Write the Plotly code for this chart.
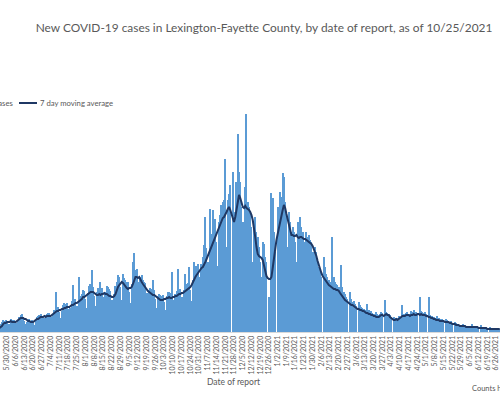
import pandas as pd
import plotly.graph_objects as go

# ---------------- data ----------------
START_DATE = "2020-05-22"          # first day of the series (a Friday)
TICK_START = "2020-05-30"          # first weekly tick label (Saturdays)
TICK_END = "2021-06-26"

# Daily new cases, one row per week (Fri .. Thu)
NEW_CASES_WEEKS = [
    [8, 4, 6, 16, 20, 24, 22],
    [24, 18, 10, 16, 26, 22, 24],
    [24, 18, 12, 22, 30, 34, 36],
    [30, 22, 16, 20, 24, 26, 22],
    [24, 18, 14, 22, 30, 32, 34],
    [36, 28, 20, 28, 34, 36, 38],
    [38, 30, 22, 34, 44, 80, 46],
    [50, 40, 28, 42, 54, 58, 56],
    [58, 46, 32, 48, 62, 94, 66],
    [66, 52, 38, 110, 72, 76, 84],
    [82, 66, 48, 78, 92, 96, 124],
    [90, 72, 52, 80, 88, 86, 100],
    [88, 70, 50, 80, 92, 90, 86],
    [82, 64, 46, 76, 92, 100, 114],
    [110, 90, 64, 116, 108, 104, 100],
    [100, 80, 58, 96, 140, 158, 124],
    [126, 100, 72, 110, 114, 104, 100],
    [98, 78, 56, 84, 88, 86, 104],
    [84, 66, 48, 72, 76, 74, 72],
    [74, 60, 44, 72, 80, 80, 78],
    [120, 64, 48, 76, 82, 126, 86],
    [86, 70, 52, 84, 116, 96, 98],
    [130, 84, 62, 104, 140, 126, 132],
    [136, 110, 80, 136, 150, 174, 230],
    [168, 140, 104, 246, 196, 244, 210],
    [226, 180, 132, 220, 234, 254, 260],
    [264, 346, 170, 264, 276, 294, 0],
    [320, 240, 170, 300, 396, 320, 300],
    [250, 220, 180, 290, 436, 260, 250],
    [240, 210, 140, 220, 230, 200, 190],
    [170, 140, 110, 180, 176, 150, 140],
    [0, 70, 60, 278, 268, 200, 160],
    [0, 250, 220, 280, 270, 318, 310],
    [260, 230, 170, 240, 220, 200, 210],
    [200, 180, 140, 220, 200, 230, 210],
    [200, 180, 150, 200, 190, 194, 184],
    [180, 160, 120, 170, 160, 140, 130],
    [124, 110, 0, 150, 130, 116, 110],
    [104, 100, 0, 190, 110, 100, 96],
    [94, 90, 0, 134, 90, 80, 76],
    [70, 66, 0, 80, 66, 60, 62],
    [56, 52, 0, 60, 54, 50, 48],
    [46, 44, 0, 56, 44, 40, 42],
    [38, 36, 0, 40, 36, 34, 36],
    [40, 38, 0, 64, 40, 38, 36],
    [34, 30, 0, 30, 26, 28, 28],
    [32, 30, 0, 54, 36, 36, 38],
    [40, 36, 0, 42, 40, 44, 38],
    [40, 38, 0, 70, 42, 40, 38],
    [40, 36, 0, 70, 34, 32, 32],
    [30, 28, 0, 32, 28, 26, 26],
    [26, 24, 0, 26, 24, 22, 20],
    [22, 18, 0, 20, 18, 16, 16],
    [14, 14, 0, 16, 14, 12, 12],
    [12, 10, 0, 16, 12, 10, 10],
    [12, 10, 0, 14, 10, 8, 8],
    [10, 8, 0, 10, 8, 6, 6],
    [8, 6, 0, 8, 6],
]

# 7 day moving average, same rows
MOVING_AVG_WEEKS = [
    [6, 6, 8, 10, 12, 16, 18],
    [18, 20, 20, 20, 22, 20, 20],
    [20, 20, 22, 24, 26, 28, 28],
    [28, 26, 26, 24, 22, 22, 20],
    [20, 20, 22, 24, 26, 26, 28],
    [30, 30, 30, 32, 30, 32, 32],
    [32, 32, 34, 36, 38, 40, 42],
    [42, 44, 44, 46, 46, 48, 48],
    [50, 50, 50, 52, 54, 54, 56],
    [58, 58, 60, 62, 64, 66, 70],
    [70, 72, 74, 76, 78, 80, 80],
    [80, 78, 76, 74, 74, 76, 74],
    [76, 76, 78, 76, 76, 74, 72],
    [72, 70, 70, 72, 76, 84, 90],
    [94, 98, 100, 98, 94, 90, 88],
    [86, 88, 88, 90, 96, 104, 110],
    [110, 108, 110, 104, 100, 96, 92],
    [88, 86, 82, 80, 78, 76, 74],
    [74, 72, 70, 68, 66, 64, 64],
    [64, 66, 66, 68, 68, 70, 68],
    [68, 70, 70, 72, 72, 74, 76],
    [76, 78, 78, 80, 82, 84, 86],
    [88, 90, 94, 100, 106, 110, 114],
    [118, 120, 124, 128, 130, 134, 140],
    [146, 152, 160, 166, 170, 176, 184],
    [192, 198, 204, 208, 214, 220, 228],
    [230, 234, 240, 246, 250, 244, 236],
    [224, 220, 230, 244, 260, 274, 268],
    [256, 250, 248, 252, 248, 246, 244],
    [240, 234, 224, 210, 190, 170, 156],
    [152, 150, 148, 144, 132, 120, 112],
    [108, 106, 106, 110, 128, 150, 168],
    [184, 196, 210, 220, 232, 244, 254],
    [248, 236, 224, 212, 202, 194, 194],
    [192, 192, 194, 190, 188, 190, 190],
    [188, 186, 186, 184, 182, 180, 178],
    [176, 172, 166, 160, 152, 142, 132],
    [122, 118, 112, 108, 104, 100, 96],
    [94, 92, 90, 88, 86, 86, 84],
    [84, 82, 78, 74, 70, 66, 64],
    [62, 60, 58, 56, 54, 54, 52],
    [50, 48, 46, 46, 44, 44, 42],
    [42, 40, 38, 38, 36, 36, 34],
    [34, 32, 32, 30, 30, 30, 32],
    [34, 34, 32, 34, 36, 34, 34],
    [30, 28, 26, 24, 24, 26, 24],
    [26, 28, 30, 32, 32, 32, 34],
    [34, 34, 32, 34, 34, 36, 34],
    [34, 36, 36, 34, 36, 34, 34],
    [34, 32, 32, 30, 30, 28, 28],
    [26, 26, 24, 24, 24, 22, 22],
    [22, 22, 20, 20, 20, 20, 18],
    [18, 16, 16, 16, 14, 14, 14],
    [12, 12, 12, 12, 12, 10, 10],
    [10, 10, 10, 10, 10, 10, 10],
    [10, 8, 8, 8, 8, 8, 8],
    [8, 6, 6, 6, 6, 6, 6],
    [6, 6, 6, 6, 6],
]

TITLE = "New COVID-19 cases in Lexington-Fayette County, by date of report, as of 10/25/2021"
BAR_NAME = "New cases"
LINE_NAME = "7 day moving average"
X_TITLE = "Date of report"
FOOTNOTE = "Counts have"

new_cases = [v for wk in NEW_CASES_WEEKS for v in wk]
moving_avg = [v for wk in MOVING_AVG_WEEKS for v in wk]
dates = pd.date_range(START_DATE, periods=len(new_cases), freq="D")
tick_vals = pd.date_range(TICK_START, TICK_END, freq="7D")

# ---------------- layout constants ----------------
W, H = 500, 397
PLOT_TOP, PLOT_BOTTOM = 100, 332
Y_MAX = 464
BAR_COLOR = "#5B9BD5"
LINE_COLOR = "#1F3864"
TEXT_COLOR = "#595959"
FONT = "Lato, 'Open Sans', sans-serif"


def px_x(px):
    return px / W


def px_y(py):
    return (PLOT_BOTTOM - py) / (PLOT_BOTTOM - PLOT_TOP)


fig = go.Figure()
fig.add_trace(go.Bar(
    x=dates, y=new_cases, name=BAR_NAME,
    marker=dict(color=BAR_COLOR, line=dict(width=0)),
))
fig.add_trace(go.Scatter(
    x=dates, y=moving_avg, name=LINE_NAME, mode="lines",
    line=dict(color=LINE_COLOR, width=2),
))

fig.update_layout(
    width=W, height=H,
    margin=dict(l=0, r=0, t=PLOT_TOP, b=H - PLOT_BOTTOM, autoexpand=False),
    paper_bgcolor="white", plot_bgcolor="white",
    showlegend=False,
    bargap=0,
    font=dict(family=FONT, color=TEXT_COLOR),
    title=dict(
        text=TITLE, x=264 / W, xanchor="center", xref="container",
        y=1 - 28 / H, yanchor="middle", yref="container",
        font=dict(family=FONT, size=11.9, color=TEXT_COLOR),
    ),
    xaxis=dict(
        type="date",
        range=["2020-05-24 09:36", "2021-06-29 04:48"],
        tickmode="array", tickvals=list(tick_vals),
        tickformat="%-m/%-d/%Y", tickangle=-90,
        tickfont=dict(family=FONT, size=7, color=TEXT_COLOR),
        showgrid=False, zeroline=False,
        showline=True, linecolor="#D9D9D9", linewidth=1,
        ticks="", automargin=False,
    ),
    yaxis=dict(
        range=[0, Y_MAX], visible=False, showgrid=False, zeroline=False,
        automargin=False,
    ),
)

ann_font = dict(family=FONT, color=TEXT_COLOR)
fig.add_annotation(text=BAR_NAME, x=px_x(15), y=px_y(103), xref="paper", yref="paper",
                   xanchor="right", yanchor="middle", showarrow=False,
                   font=dict(size=7.7, **ann_font))
fig.add_annotation(text=LINE_NAME, x=px_x(38), y=px_y(103), xref="paper", yref="paper",
                   xanchor="left", yanchor="middle", showarrow=False,
                   font=dict(size=7.7, **ann_font))
fig.add_shape(type="line", xref="paper", yref="paper",
              x0=px_x(19), x1=px_x(37), y0=px_y(103), y1=px_y(103),
              line=dict(color=LINE_COLOR, width=2))
fig.add_annotation(text=X_TITLE, x=px_x(233), y=px_y(382), xref="paper", yref="paper",
                   xanchor="center", yanchor="middle", showarrow=False,
                   font=dict(size=8.5, **ann_font))
fig.add_annotation(text=FOOTNOTE, x=px_x(470), y=px_y(388), xref="paper", yref="paper",
                   xanchor="left", yanchor="middle", showarrow=False,
                   font=dict(size=7.5, **ann_font))

# remove the default page margin so the 500x397 figure fills the window exactly
fig.write_html("out.html", config={"displayModeBar": False},
               post_script="document.body.style.margin='0px';")
